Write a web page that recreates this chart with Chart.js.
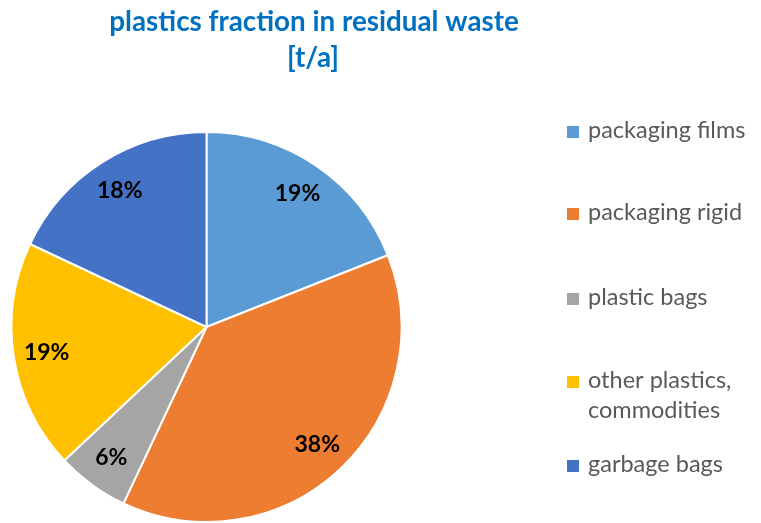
<!DOCTYPE html>
<html><head><meta charset="utf-8">
<script src="https://cdn.jsdelivr.net/npm/chart.js@4/dist/chart.umd.min.js"></script>
<style>html,body{margin:0;padding:0;background:#fff}#wrap{position:relative;width:761px;height:523px}</style>
</head><body><div id="wrap"><canvas id="c" width="761" height="523"></canvas></div>
<script>
const categories = ["packaging films", "packaging rigid", "plastic bags", ["other plastics,", "commodities"], "garbage bags"];
const shares = [19, 38, 6, 19, 18];
const colors = ["#5B9BD5", "#ED7D31", "#A5A5A5", "#FFC000", "#4472C4"];
const titleLines = ["plastics fraction in residual waste", "[t/a]"];
const legendY = [132, 214, 299, 382, 466];

const FONT = "Lato, 'Open Sans', sans-serif";

const overlay = {
  id: 'overlay',
  afterDatasetsDraw(chart) {
    const ctx = chart.ctx;
    const meta = chart.getDatasetMeta(0);
    ctx.save();
    ctx.fillStyle = '#000';
    ctx.font = "bold 23px " + FONT;
    ctx.textAlign = 'center';
    ctx.textBaseline = 'middle';
    const total = shares.reduce((a, b) => a + b, 0);
    meta.data.forEach((arc, i) => {
      const p = arc.getProps(['x', 'y', 'startAngle', 'endAngle', 'outerRadius'], true);
      const mid = (p.startAngle + p.endAngle) / 2;
      const r = p.outerRadius * 0.83;
      ctx.fillText(Math.round(shares[i] / total * 100) + '%', p.x + Math.cos(mid) * r, p.y + Math.sin(mid) * r);
    });
    // title
    ctx.textBaseline = 'alphabetic';
    ctx.fillStyle = '#0070C0';
    ctx.font = "bold 27.8px " + FONT;
    ctx.fillText(titleLines[0], 314, 31);
    ctx.fillText(titleLines[1], 313, 67);
    // legend
    ctx.textAlign = 'left';
    ctx.font = "23.5px " + FONT;
    categories.forEach((lab, i) => {
      ctx.fillStyle = colors[i];
      ctx.fillRect(567, legendY[i] - 6, 12, 12);
      ctx.fillStyle = '#595959';
      const lines = Array.isArray(lab) ? lab : [lab];
      lines.forEach((t, j) => ctx.fillText(t, 588, legendY[i] + 6 + j * 30));
    });
    ctx.restore();
  }
};

new Chart(document.getElementById('c'), {
  type: 'pie',
  data: {
    labels: categories.map(l => Array.isArray(l) ? l.join(' ') : l),
    datasets: [{ data: shares, backgroundColor: colors, borderColor: '#fff', borderWidth: 2 }]
  },
  options: {
    responsive: false,
    animation: false,
    layout: { padding: { left: 10, right: 358, top: 131, bottom: 0 } },
    plugins: { legend: { display: false }, title: { display: false }, tooltip: { enabled: false } }
  },
  plugins: [overlay]
});
</script></body></html>
